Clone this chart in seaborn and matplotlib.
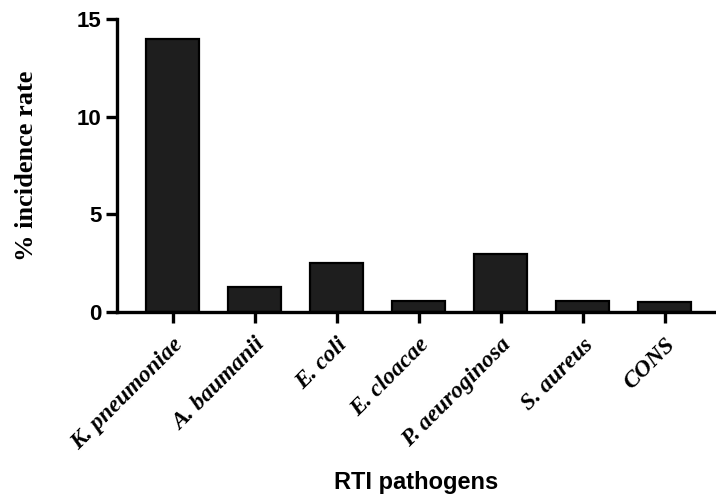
import matplotlib
matplotlib.use("Agg")
import matplotlib.pyplot as plt
import seaborn as sns
import pandas as pd

pathogens = ["K. pneumoniae", "A. baumanii", "E. coli", "E. cloacae",
             "P. aeuroginosa", "S. aureus", "CONS"]
incidence = [14.0, 1.27, 2.5, 0.58, 2.98, 0.58, 0.5]
yticks = [0, 5, 10, 15]

df = pd.DataFrame({"pathogen": pathogens, "rate": incidence})

sns.set_style("ticks")
plt.rcParams["text.color"] = "black"
plt.rcParams["axes.labelcolor"] = "black"
plt.rcParams["xtick.color"] = "black"
plt.rcParams["ytick.color"] = "black"

fig = plt.figure(figsize=(7.16, 4.98), dpi=100)
ax = fig.add_axes([0.1634, 0.3735, 0.836, 0.5875])

sns.barplot(data=df, x="pathogen", y="rate", color="#1e1e1e",
            edgecolor="black", linewidth=1.6, width=0.65, saturation=1, ax=ax)

ax.set_ylim(0, 15)
ax.set_xlim(-0.68, 6.62)
ax.set_yticks(yticks)
ax.set_yticklabels([str(t) for t in yticks], fontfamily="Liberation Sans",
                   fontweight="bold", fontsize=16, color="black")
ax.set_xticks(range(len(pathogens)))
ax.set_xticklabels(pathogens, rotation=45, ha="right", rotation_mode="anchor",
                   fontfamily="Liberation Serif", fontweight="bold",
                   fontstyle="italic", fontsize=17, color="black")

for s in ["top", "right"]:
    ax.spines[s].set_visible(False)
for s in ["left", "bottom"]:
    ax.spines[s].set_linewidth(2.4)
    ax.spines[s].set_color("black")
ax.tick_params(axis="both", length=8, width=2.4, color="black", pad=3)
ax.tick_params(axis="x", pad=8)

ax.set_ylabel("% incidence rate", fontfamily="Liberation Serif",
              fontweight="bold", fontsize=19, labelpad=28, color="black")
ax.set_xlabel("RTI pathogens", fontfamily="Liberation Sans",
              fontweight="bold", fontsize=17, labelpad=12, color="black")

fig.savefig("out.png", dpi=100)
